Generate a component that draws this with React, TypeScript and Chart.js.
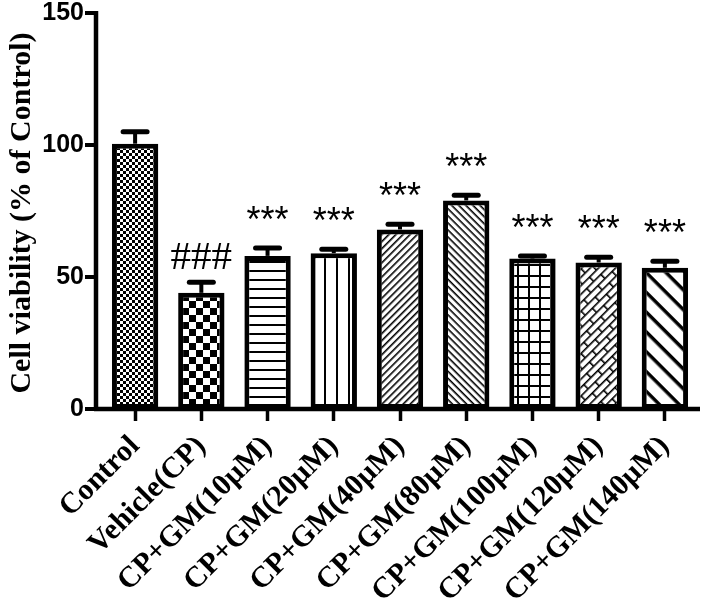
import React, { useEffect, useRef } from "react";
import { Chart, registerables } from "chart.js";

Chart.register(...registerables);

const categories = [
  "Control",
  "Vehicle(CP)",
  "CP+GM(10µM)",
  "CP+GM(20µM)",
  "CP+GM(40µM)",
  "CP+GM(80µM)",
  "CP+GM(100µM)",
  "CP+GM(120µM)",
  "CP+GM(140µM)",
];
const values = [100.5, 44, 58, 59, 68, 79, 57, 55.5, 53.5];
const errors = [4.5, 4, 3, 1.5, 2, 2, 1, 2, 2.5];
const marks = ["", "###", "***", "***", "***", "***", "***", "***", "***"];
const yTicks = [0, 50, 100, 150];
const yTitle = "Cell viability (% of Control)";

function tile(w: number, h: number, draw: (c: CanvasRenderingContext2D) => void) {
  const cv = document.createElement("canvas");
  cv.width = w;
  cv.height = h;
  const c = cv.getContext("2d")!;
  c.fillStyle = "#fff";
  c.fillRect(0, 0, w, h);
  c.fillStyle = "#000";
  draw(c);
  return cv;
}

function makePatterns(ctx: CanvasRenderingContext2D) {
  const pat = (cv: HTMLCanvasElement, rot = 0) => {
    const p = ctx.createPattern(cv, "repeat")!;
    if (rot) p.setTransform(new DOMMatrix().rotateSelf(rot));
    return p;
  };
  return [
    pat(tile(6, 6, (c) => { c.fillRect(0, 0, 3, 3); c.fillRect(3, 3, 3, 3); })),
    pat(tile(14, 14, (c) => { c.fillRect(0, 0, 7, 7); c.fillRect(7, 7, 7, 7); })),
    pat(tile(4, 9, (c) => { c.fillRect(0, 0, 4, 2); })),
    pat(tile(12, 4, (c) => { c.fillRect(0, 0, 2, 4); })),
    pat(tile(4, 5, (c) => { c.fillRect(0, 0, 4, 1.6); }), -45),
    pat(tile(4, 5, (c) => { c.fillRect(0, 0, 4, 1.6); }), 45),
    pat(tile(11, 11, (c) => { c.fillRect(0, 0, 11, 2); c.fillRect(0, 0, 2, 11); })),
    pat(tile(20, 12, (c) => {
      c.fillRect(0, 0, 20, 1.6);
      c.fillRect(0, 6, 20, 1.6);
      c.fillRect(0, 0, 1.6, 6);
      c.fillRect(10, 6, 1.6, 6);
    }), -45),
    pat(tile(4, 14, (c) => { c.fillRect(0, 0, 4, 3.5); }), 45),
  ];
}

const overlay = {
  id: "overlay",
  afterDatasetsDraw(chart: any) {
    const ctx: CanvasRenderingContext2D = chart.ctx;
    const y = chart.scales.y;
    const area = chart.chartArea;
    const meta = chart.getDatasetMeta(0);
    ctx.save();
    ctx.strokeStyle = "#000";
    ctx.fillStyle = "#000";
    meta.data.forEach((bar: any, i: number) => {
      const yv = y.getPixelForValue(values[i]);
      const ye = y.getPixelForValue(values[i] + errors[i]);
      ctx.lineWidth = 4;
      ctx.beginPath();
      ctx.moveTo(bar.x, yv);
      ctx.lineTo(bar.x, ye);
      ctx.stroke();
      ctx.lineWidth = 5;
      ctx.lineCap = "round";
      ctx.beginPath();
      ctx.moveTo(bar.x - 12, ye);
      ctx.lineTo(bar.x + 12, ye);
      ctx.stroke();
      ctx.lineCap = "butt";
      const m = marks[i];
      if (m) {
        ctx.textAlign = "center";
        ctx.textBaseline = "alphabetic";
        if (m.startsWith("#")) {
          ctx.font = '41px "Liberation Serif"';
          ctx.fillText(m, bar.x, ye - 13);
        } else {
          ctx.font = '36px "Liberation Sans"';
          ctx.fillText(m, bar.x, ye - 16);
        }
      }
    });
    const ax = area.left - 6;
    ctx.lineWidth = 4.5;
    ctx.beginPath();
    ctx.moveTo(ax, y.getPixelForValue(150) - 2);
    ctx.lineTo(ax, area.bottom + 2);
    ctx.stroke();
    ctx.beginPath();
    ctx.moveTo(ax - 2, area.bottom);
    ctx.lineTo(area.right + 2, area.bottom);
    ctx.stroke();
    ctx.lineWidth = 4;
    yTicks.forEach((t) => {
      const py = y.getPixelForValue(t);
      ctx.beginPath();
      ctx.moveTo(ax - 11, py);
      ctx.lineTo(ax, py);
      ctx.stroke();
    });
    ctx.translate(22, 213);
    ctx.rotate(-Math.PI / 2);
    ctx.font = 'bold 30px "Liberation Serif"';
    ctx.textAlign = "center";
    ctx.textBaseline = "middle";
    ctx.fillText(yTitle, 0, 0);
    ctx.restore();
  },
};

export default function App() {
  const ref = useRef<HTMLCanvasElement>(null);
  useEffect(() => {
    const canvas = ref.current!;
    const ctx = canvas.getContext("2d")!;
    const patterns = makePatterns(ctx);
    const chart = new Chart(canvas, {
      type: "bar",
      data: {
        labels: categories,
        datasets: [
          {
            data: values,
            backgroundColor: patterns as any,
            borderColor: "#000",
            borderWidth: 5,
            borderSkipped: false,
            barPercentage: 0.7,
            categoryPercentage: 1,
          },
        ],
      },
      options: {
        animation: false,
        responsive: false,
        layout: { padding: { top: 13, right: 7, left: 0, bottom: 0 } },
        plugins: { legend: { display: false }, tooltip: { enabled: false } },
        scales: {
          x: {
            ticks: {
              minRotation: 45,
              maxRotation: 45,
              autoSkip: false,
              padding: 8,
              color: "#000",
              font: { family: "Liberation Serif", size: 30, weight: "bold" },
            },
            grid: {
              display: true,
              drawOnChartArea: false,
              drawTicks: true,
              tickLength: 12,
              tickWidth: 3.5,
              color: "#000",
              offset: false,
            },
            border: { display: false },
            afterFit: (s: any) => {
              s.height = 198;
              s.paddingLeft = 0;
              s.paddingRight = 0;
            },
          },
          y: {
            min: 0,
            max: 150,
            ticks: {
              stepSize: 50,
              padding: 18,
              color: "#000",
              font: { family: "Liberation Sans", size: 25, weight: "bold" },
            },
            grid: { display: false, drawTicks: false },
            border: { display: false },
            afterFit: (s: any) => {
              s.width = 102;
              s.paddingTop = 0;
              s.paddingBottom = 0;
            },
          },
        },
      },
      plugins: [overlay],
    });
    return () => chart.destroy();
  }, []);
  return (
    <div style={{ position: "absolute", left: 0, top: 0, width: 705, height: 607, background: "#fff" }}>
      <canvas ref={ref} width={705} height={607} />
    </div>
  );
}
